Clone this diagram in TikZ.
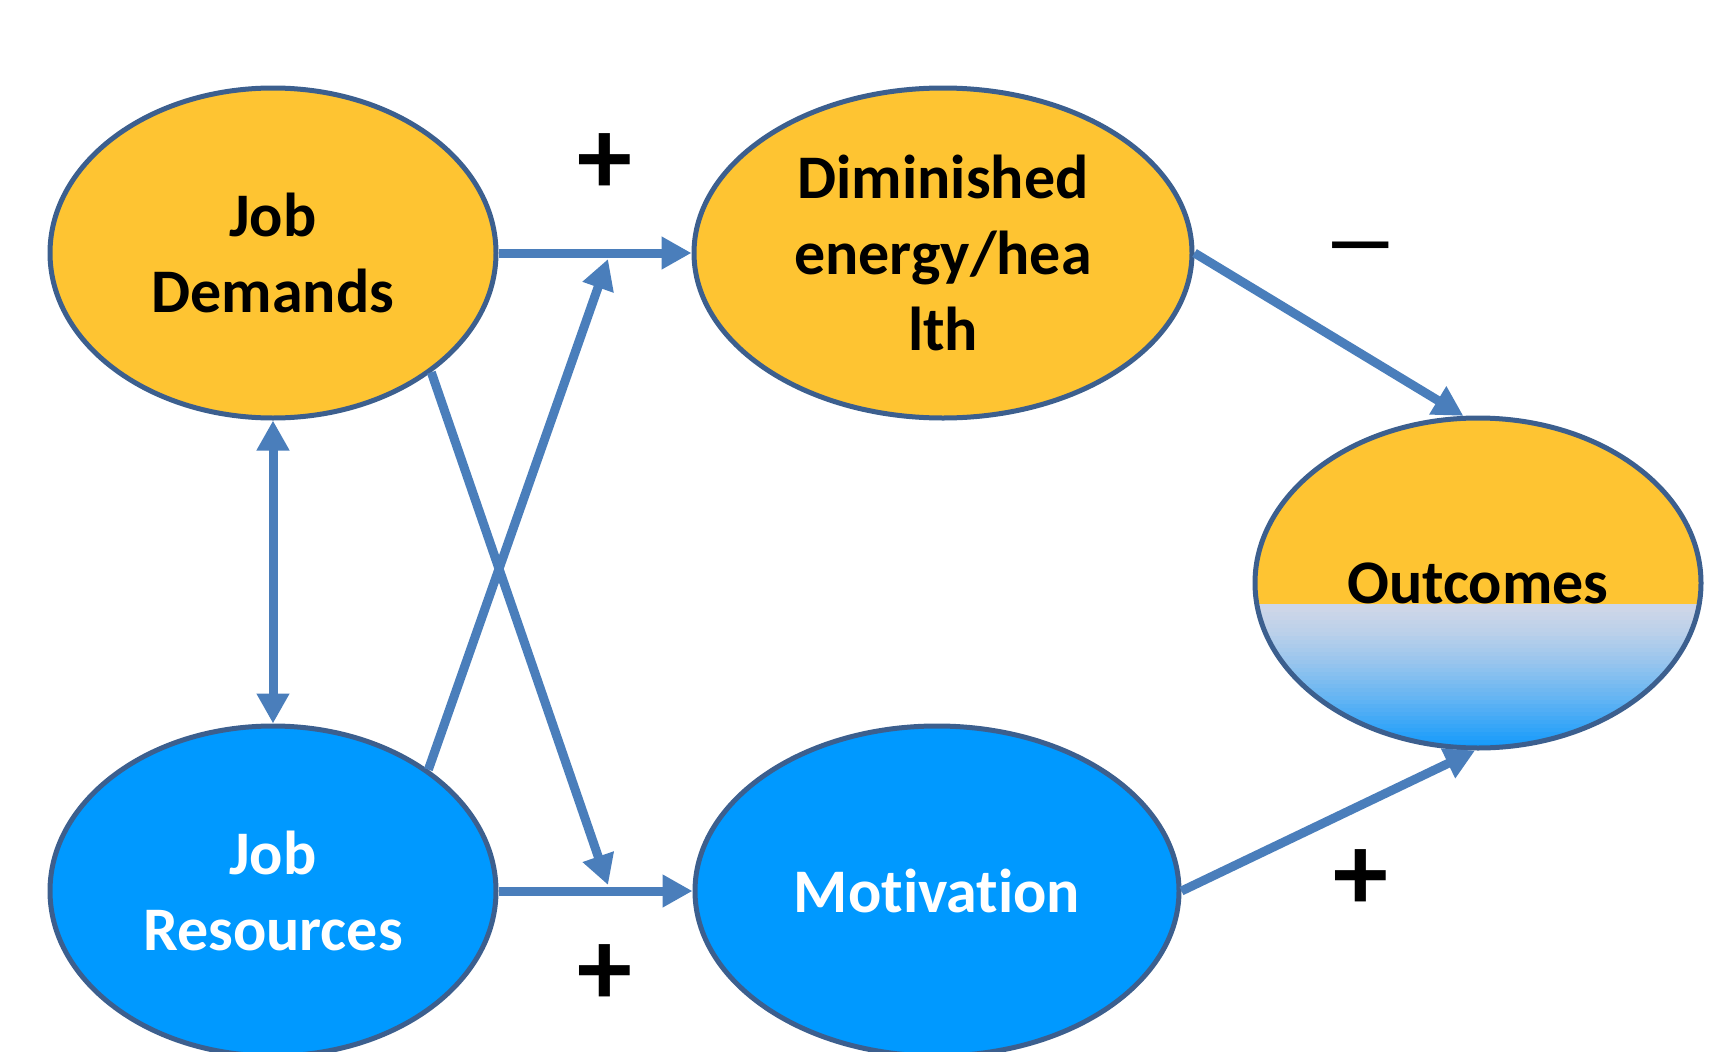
\documentclass[tikz,border=0pt]{standalone}
\usepackage{fontspec}
\setmainfont{Carlito}[Ligatures=CommonOff]
\usetikzlibrary{arrows.meta,shapes.geometric}
\definecolor{jdyellow}{RGB}{254,196,50}
\definecolor{jrblue}{RGB}{0,153,255}
\definecolor{rim}{RGB}{60,95,142}
\definecolor{linkblue}{RGB}{74,126,187}
\definecolor{haze}{RGB}{205,214,232}
\definecolor{deepsky}{RGB}{12,152,252}

\begin{document}
\begin{tikzpicture}[
    x=1pt, y=-1pt,
    every node/.style={font=\bfseries\fontsize{62}{76}\selectfont},
    demand/.style={
        ellipse, draw=rim, line width=5pt, fill=jdyellow, inner sep=0pt,
        align=center, minimum width=446pt, minimum height=330pt
    },
    resource/.style={demand, fill=jrblue, text=white},
    flow/.style={-{Triangle[length=30pt,width=31pt]}, line width=9pt, draw=linkblue},
    twoway/.style={{Triangle[length=30pt,width=31pt]}-{Triangle[length=30pt,width=31pt]}, line width=9pt, draw=linkblue},
    sign/.style={font=\bfseries\fontsize{110}{110}\selectfont}
]
\useasboundingbox (0,0) rectangle (1724,1052);

% Outcomes background: yellow top, pale to bright blue below
\begin{scope}
  \clip (1478, 583) ellipse [x radius=223pt, y radius=165pt];
  \fill[jdyellow] (1250, 415) rectangle (1706, 750);
  \foreach \i in {0,...,36} {
    \pgfmathtruncatemacro\p{100*(\i/36)^1.35}
    \fill[deepsky!\p!haze] (1250, 604+\i*4) rectangle (1706, 608.6+\i*4);
  }
\end{scope}

% Nodes
\node[demand]   (JD)  at (273, 253) {Job\\Demands};
\node[demand, minimum width=498pt] (Dim) at (943, 253) {Diminished\\energy/hea\\lth};
\node[resource] (JR)  at (273, 891) {Job\\Resources};
\node[resource, minimum width=484pt] (Mot) at (937, 891) {Motivation};
\node[demand, fill=none] (Out) at (1478, 583) {Outcomes};

% free ends of the crossing arrows
\coordinate (tipR) at (608, 259);
\coordinate (tipD) at (608, 885);

% ── Paths ───────────────────────────────────────────────────
\draw[flow]   (JD.east) -- (Dim.west);
\draw[flow]   (JR.east) -- (Mot.west);
\draw[twoway] (JD.south) -- (JR.north);
\draw[flow]   (JD.-37) -- (tipD);
\draw[flow]   (JR.38) -- (tipR);
\draw[flow]   (Dim.east) -- (Out.95);
\draw[flow]   (Mot.east) -- (Out.-91);

% ── Signs ───────────────────────────────────────────────────
\node[sign] (plusA)  at (605, 164) {+};
\node[sign] (plusB)  at (605, 975) {+};
\node[font=\fontsize{105}{105}\selectfont] (minusA) at (1361, 258) {\scalebox{1.5}[1]{\textendash}};
\node[sign] (plusC)  at (1361, 880) {+};

\end{tikzpicture}
\end{document}
